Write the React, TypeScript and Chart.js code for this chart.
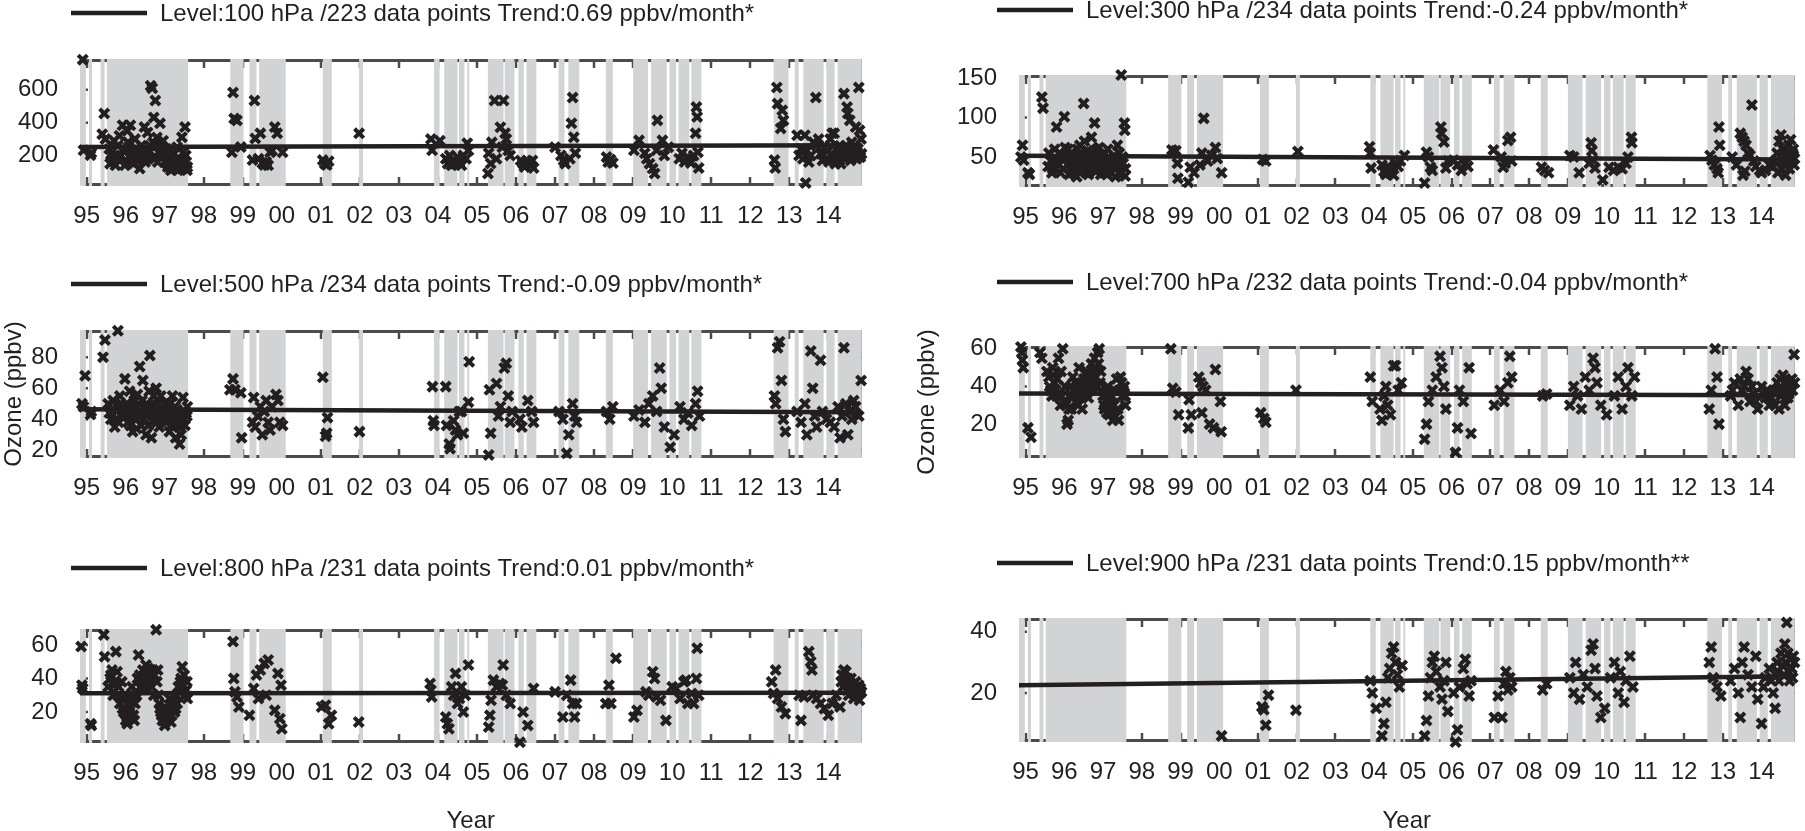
import { useEffect, useRef } from "react";
import { Chart, registerables } from "chart.js";

Chart.register(...registerables);

Chart.defaults.font.family = "'Liberation Sans', Arial, sans-serif";
Chart.defaults.font.size = 24;
Chart.defaults.color = "#231f20";

// x axis runs from the first to the last sounding month (decimal years)
const X_MIN = 1994.83;
const X_MAX = 2014.85;
const yearTicks = [
  1995, 1996, 1997, 1998, 1999, 2000, 2001, 2002, 2003, 2004,
  2005, 2006, 2007, 2008, 2009, 2010, 2011, 2012, 2013, 2014,
];

// shaded periods (same in every panel)
const bands: [number, number][] = [
  [1994.83, 1994.98], [1995.06, 1995.14], [1995.36, 1995.46], [1995.52, 1997.6],
  [1998.68, 1999.02], [1999.17, 1999.35], [1999.42, 2000.1],
  [2001.05, 2001.28], [2001.98, 2002.08],
  [2003.9, 2004.04], [2004.16, 2004.5], [2004.54, 2004.68], [2004.75, 2004.8],
  [2005.28, 2005.68], [2005.71, 2005.96], [2006.06, 2006.2], [2006.27, 2006.52],
  [2007.09, 2007.24], [2007.34, 2007.62], [2008.3, 2008.48],
  [2009.0, 2009.38], [2009.46, 2009.86], [2009.93, 2010.1], [2010.16, 2010.44], [2010.49, 2010.75],
  [2012.6, 2012.98], [2013.14, 2013.24], [2013.36, 2013.88], [2013.95, 2014.16], [2014.24, 2014.85],
];

// ---- 100 hPa ----
const pts100: [number, number][] = [
  [1994.9, 784], [1994.92, 232], [1995.1, 202], [1995.12, 216], [1995.4, 330], [1995.45, 456], [1995.48, 300],
  [1995.58, 240], [1995.62, 205], [1995.66, 180], [1995.7, 290], [1995.74, 140], [1995.8, 260], [1995.84, 320],
  [1995.88, 200], [1995.92, 384], [1995.96, 230], [1996.0, 170], [1996.04, 350], [1996.08, 250], [1996.12, 384],
  [1996.16, 210], [1996.2, 150], [1996.24, 300], [1996.28, 190], [1996.32, 230], [1996.36, 120], [1996.4, 260],
  [1996.44, 200], [1996.48, 373], [1996.52, 180], [1996.56, 340], [1996.6, 230], [1996.64, 625], [1996.68, 610],
  [1996.7, 280], [1996.72, 432], [1996.76, 535], [1996.8, 310], [1996.84, 220], [1996.88, 396], [1996.9, 260],
  [1996.94, 200], [1997.0, 160], [1997.04, 240], [1997.08, 130], [1997.12, 190], [1997.16, 110], [1997.2, 150],
  [1997.24, 210], [1997.28, 120], [1997.32, 250], [1997.36, 180], [1997.4, 140], [1997.44, 311], [1997.48, 220],
  [1997.52, 373], [1997.55, 160], [1997.58, 130], [1996.1, 190], [1996.5, 160], [1996.3, 170], [1997.1, 170],
  [1995.6, 150], [1995.78, 200], [1995.98, 140], [1996.06, 280], [1996.14, 160], [1996.26, 240], [1996.34, 180],
  [1996.46, 220], [1996.58, 190], [1996.62, 260], [1996.74, 180], [1996.82, 160], [1996.96, 290], [1997.02, 200],
  [1997.06, 150], [1997.14, 130], [1997.18, 180], [1997.22, 120], [1997.26, 160], [1997.3, 140], [1997.34, 110],
  [1997.38, 130], [1997.42, 170], [1997.46, 120], [1997.5, 150], [1997.54, 200], [1997.57, 110],
  [1998.72, 220], [1998.75, 584], [1998.78, 425], [1998.85, 414], [1998.95, 251],
  [1999.25, 172], [1999.3, 535], [1999.32, 304], [1999.4, 180], [1999.45, 335], [1999.5, 154], [1999.55, 142],
  [1999.6, 160], [1999.65, 140], [1999.7, 220], [1999.75, 230], [1999.82, 373], [1999.88, 335], [2000.02, 220],
  [2001.05, 172], [2001.1, 150], [2001.15, 142], [2001.2, 165], [2001.98, 335],
  [2003.82, 300], [2003.85, 232], [2004.05, 290], [2004.2, 180], [2004.25, 150], [2004.3, 200], [2004.35, 140],
  [2004.4, 170], [2004.45, 150], [2004.5, 190], [2004.55, 160], [2004.6, 140], [2004.65, 200], [2004.72, 180],
  [2004.75, 275], [2004.78, 230],
  [2005.28, 90], [2005.3, 214], [2005.35, 151], [2005.38, 280], [2005.45, 535], [2005.5, 180], [2005.6, 372],
  [2005.65, 250], [2005.68, 535], [2005.72, 336], [2005.75, 300], [2005.8, 230], [2005.85, 200],
  [2006.12, 170], [2006.18, 150], [2006.22, 130], [2006.3, 165], [2006.38, 140], [2006.42, 170], [2006.45, 124],
  [2007.0, 250], [2007.15, 200], [2007.22, 170], [2007.26, 150], [2007.38, 180], [2007.42, 396], [2007.45, 553],
  [2007.48, 311], [2007.52, 214],
  [2008.32, 190], [2008.36, 160], [2008.42, 175], [2008.48, 154],
  [2009.02, 232], [2009.15, 292], [2009.3, 214], [2009.35, 180], [2009.42, 150], [2009.5, 120], [2009.55, 90],
  [2009.6, 232], [2009.62, 414], [2009.75, 292], [2009.8, 200], [2009.9, 250],
  [2010.18, 180], [2010.25, 214], [2010.32, 160], [2010.4, 190], [2010.48, 154], [2010.55, 200], [2010.6, 335],
  [2010.62, 495], [2010.64, 435], [2010.66, 220], [2010.68, 124],
  [2012.62, 172], [2012.64, 124], [2012.68, 614], [2012.7, 516], [2012.78, 365], [2012.82, 475], [2012.85, 414],
  [2013.2, 323], [2013.25, 200], [2013.3, 240], [2013.35, 180], [2013.4, 323], [2013.42, 32], [2013.45, 230],
  [2013.5, 160], [2013.55, 200], [2013.62, 280], [2013.68, 553], [2013.7, 260], [2013.75, 300], [2013.8, 210],
  [2013.85, 170], [2013.92, 250], [2014.0, 230], [2014.05, 300], [2014.1, 335], [2014.15, 335], [2014.2, 240],
  [2014.25, 200], [2014.3, 260], [2014.35, 220], [2014.4, 577], [2014.45, 260], [2014.48, 495], [2014.5, 456],
  [2014.55, 414], [2014.6, 280], [2014.62, 190], [2014.65, 250], [2014.7, 373], [2014.74, 220], [2014.78, 614],
  [2014.8, 353], [2014.84, 300], [2014.85, 210],
  [2013.95, 180], [2014.02, 160], [2014.08, 200], [2014.12, 170], [2014.18, 150], [2014.22, 190], [2014.28, 170],
  [2014.32, 150], [2014.38, 200], [2014.42, 180], [2014.52, 220], [2014.57, 170], [2014.67, 200], [2014.72, 180],
  [2014.76, 240], [2014.82, 190],
];
const trend100: [number, number][] = [[1994.83, 252], [2014.85, 263]];

// ---- 300 hPa ----
const pts300: [number, number][] = [
  [1994.92, 65], [1994.88, 50], [1994.95, 46], [1995.06, 30], [1995.1, 28], [1995.42, 126], [1995.45, 112],
  [1995.6, 55], [1995.65, 45], [1995.7, 35], [1995.75, 60], [1995.8, 88], [1995.85, 40], [1995.9, 30],
  [1995.95, 50], [1996.0, 101], [1996.02, 62], [1996.08, 40], [1996.12, 28], [1996.18, 55], [1996.22, 45],
  [1996.28, 35], [1996.32, 25], [1996.36, 50], [1996.4, 65], [1996.45, 40], [1996.5, 118], [1996.52, 70],
  [1996.56, 30], [1996.6, 58], [1996.64, 45], [1996.7, 75], [1996.74, 35], [1996.78, 93], [1996.82, 52],
  [1996.86, 42], [1996.9, 62], [1996.94, 28], [1997.0, 48], [1997.04, 55], [1997.08, 38], [1997.12, 60],
  [1997.18, 45], [1997.22, 30], [1997.28, 52], [1997.32, 25], [1997.37, 65], [1997.4, 40], [1997.44, 28],
  [1997.47, 154], [1997.5, 50], [1997.55, 93], [1997.56, 84], [1997.58, 35], [1996.15, 48], [1996.66, 32],
  [1995.58, 38], [1995.68, 30], [1995.78, 45], [1995.88, 55], [1995.98, 35], [1996.05, 50], [1996.1, 60],
  [1996.2, 30], [1996.25, 52], [1996.3, 42], [1996.34, 60], [1996.38, 32], [1996.42, 55], [1996.48, 45],
  [1996.54, 50], [1996.58, 38], [1996.62, 28], [1996.68, 55], [1996.72, 48], [1996.76, 40], [1996.8, 32],
  [1996.84, 60], [1996.88, 35], [1996.92, 45], [1996.98, 38], [1997.02, 30], [1997.06, 46], [1997.1, 28],
  [1997.14, 50], [1997.2, 38], [1997.25, 44], [1997.3, 35], [1997.34, 48], [1997.42, 55], [1997.48, 30],
  [1997.52, 42], [1997.57, 26],
  [1998.78, 59], [1998.88, 58], [1998.92, 42], [1998.93, 23],
  [1999.2, 18], [1999.25, 37], [1999.35, 30], [1999.5, 40], [1999.55, 55], [1999.6, 99], [1999.7, 45],
  [1999.8, 52], [1999.9, 62], [1999.95, 48], [2000.06, 30],
  [2001.12, 47], [2001.2, 45], [2002.03, 57],
  [2003.88, 63], [2003.9, 55], [2003.92, 36], [2004.2, 40], [2004.25, 32], [2004.3, 28], [2004.35, 38],
  [2004.4, 30], [2004.45, 35], [2004.5, 27], [2004.55, 42], [2004.62, 38], [2004.68, 45], [2004.78, 52],
  [2005.3, 17], [2005.35, 56], [2005.4, 50], [2005.45, 37], [2005.5, 33], [2005.72, 88], [2005.74, 80],
  [2005.8, 69], [2005.85, 36], [2005.9, 45],
  [2006.05, 46], [2006.15, 40], [2006.25, 33], [2006.35, 42], [2006.42, 38],
  [2007.08, 59], [2007.28, 50], [2007.33, 37], [2007.38, 42], [2007.45, 71], [2007.52, 75], [2007.55, 45],
  [2008.32, 37], [2008.4, 33], [2008.5, 30],
  [2009.05, 52], [2009.15, 50], [2009.29, 30], [2009.55, 42], [2009.6, 68], [2009.62, 58], [2009.65, 46],
  [2009.7, 36], [2009.9, 21], [2010.06, 37], [2010.18, 33], [2010.3, 37], [2010.4, 35], [2010.5, 42],
  [2010.55, 50], [2010.64, 75], [2010.65, 68],
  [2012.67, 52], [2012.72, 46], [2012.78, 40], [2012.85, 35], [2012.88, 30], [2012.9, 88], [2012.92, 65],
  [2013.24, 50], [2013.35, 40], [2013.45, 80], [2013.5, 75], [2013.52, 27], [2013.55, 70], [2013.57, 32],
  [2013.6, 65], [2013.65, 55], [2013.7, 52], [2013.75, 116], [2013.8, 45], [2013.85, 38], [2013.95, 33],
  [2014.0, 30], [2014.1, 33], [2014.2, 40], [2014.4, 55], [2014.42, 30], [2014.45, 70], [2014.5, 78],
  [2014.52, 35], [2014.55, 60], [2014.6, 48], [2014.62, 27], [2014.65, 45], [2014.7, 65], [2014.75, 72],
  [2014.8, 55], [2014.84, 40],
  [2014.3, 38], [2014.35, 45], [2014.48, 50], [2014.58, 40], [2014.68, 55], [2014.72, 35], [2014.78, 45],
  [2014.82, 60], [2014.85, 48],
];
const trend300: [number, number][] = [[1994.83, 51.5], [2014.85, 47]];

// ---- 500 hPa ----
const pts500: [number, number][] = [
  [1994.96, 68], [1994.88, 50], [1994.92, 48], [1995.1, 43], [1995.12, 45], [1995.42, 80], [1995.47, 91],
  [1995.8, 97],
  [1995.58, 44], [1995.62, 40], [1995.68, 52], [1995.72, 35], [1995.78, 48], [1995.85, 55], [1995.9, 42],
  [1995.98, 66], [1996.02, 50], [1996.06, 38], [1996.1, 58], [1996.14, 45], [1996.18, 32], [1996.22, 52],
  [1996.26, 40], [1996.3, 56], [1996.36, 74], [1996.4, 36], [1996.44, 65], [1996.48, 48], [1996.52, 30],
  [1996.56, 44], [1996.6, 58], [1996.62, 81], [1996.66, 28], [1996.7, 50], [1996.74, 40], [1996.78, 60],
  [1996.82, 46], [1996.86, 35], [1996.9, 55], [1996.94, 42], [1997.0, 50], [1997.04, 38], [1997.08, 48],
  [1997.12, 32], [1997.16, 45], [1997.2, 55], [1997.24, 40], [1997.28, 28], [1997.32, 46], [1997.36, 35],
  [1997.38, 24], [1997.42, 30], [1997.47, 54], [1997.5, 40], [1997.55, 44], [1997.58, 48],
  [1995.55, 50], [1995.65, 46], [1995.75, 40], [1995.82, 38], [1995.88, 50], [1995.94, 45], [1996.0, 42],
  [1996.08, 46], [1996.12, 36], [1996.2, 44], [1996.24, 48], [1996.28, 34], [1996.32, 42], [1996.34, 50],
  [1996.38, 45], [1996.42, 52], [1996.46, 40], [1996.5, 44], [1996.54, 50], [1996.58, 36], [1996.64, 46],
  [1996.68, 42], [1996.72, 55], [1996.76, 46], [1996.8, 38], [1996.84, 50], [1996.88, 44], [1996.92, 48],
  [1996.98, 40], [1997.02, 45], [1997.06, 42], [1997.1, 40], [1997.14, 50], [1997.18, 36], [1997.22, 42],
  [1997.26, 48], [1997.3, 38], [1997.34, 42], [1997.4, 36], [1997.44, 44], [1997.52, 36], [1997.57, 42],
  [1998.67, 59], [1998.75, 66], [1998.8, 59], [1998.95, 57], [1998.97, 28],
  [1999.25, 38], [1999.28, 54], [1999.32, 35], [1999.38, 42], [1999.45, 48], [1999.5, 30], [1999.55, 45],
  [1999.6, 52], [1999.65, 38], [1999.7, 33], [1999.75, 48], [1999.85, 56], [1999.9, 52], [1999.95, 38],
  [2000.02, 36],
  [2001.05, 67], [2001.12, 29], [2001.15, 31], [2001.17, 41], [2001.99, 32],
  [2003.86, 61], [2003.88, 39], [2003.9, 36], [2004.2, 61], [2004.22, 36], [2004.29, 24], [2004.31, 21],
  [2004.4, 39], [2004.45, 33], [2004.5, 30], [2004.55, 45], [2004.6, 45], [2004.65, 31], [2004.78, 51],
  [2004.8, 77],
  [2005.3, 17], [2005.32, 59], [2005.35, 31], [2005.5, 63], [2005.55, 42], [2005.6, 48], [2005.7, 73],
  [2005.75, 76], [2005.8, 55], [2005.85, 38], [2005.9, 45],
  [2006.1, 40], [2006.15, 35], [2006.3, 52], [2006.4, 45], [2006.45, 38],
  [2007.1, 45], [2007.2, 40], [2007.3, 18], [2007.35, 30], [2007.45, 50], [2007.5, 42], [2007.55, 38],
  [2008.32, 45], [2008.4, 40], [2008.48, 48],
  [2009.02, 42], [2009.15, 46], [2009.3, 38], [2009.4, 50], [2009.5, 55], [2009.6, 45], [2009.68, 73],
  [2009.72, 60], [2009.8, 35], [2009.95, 22], [2010.05, 30], [2010.2, 48], [2010.3, 40], [2010.4, 44],
  [2010.5, 36], [2010.6, 50], [2010.65, 58], [2010.7, 42],
  [2012.62, 55], [2012.65, 50], [2012.7, 86], [2012.75, 90], [2012.8, 65], [2012.85, 40], [2012.9, 32],
  [2013.2, 45], [2013.3, 38], [2013.4, 50], [2013.45, 30], [2013.55, 84], [2013.6, 60], [2013.65, 42],
  [2013.7, 35], [2013.8, 78], [2013.85, 45], [2013.95, 40], [2014.05, 38], [2014.15, 35], [2014.25, 48],
  [2014.3, 28], [2014.35, 42], [2014.4, 86], [2014.45, 50], [2014.5, 30], [2014.55, 45], [2014.6, 40],
  [2014.65, 52], [2014.7, 48], [2014.78, 42], [2014.84, 65],
];
const trend500: [number, number][] = [[1994.83, 46.5], [2014.85, 44.5]];

// ---- 700 hPa ----
const pts700: [number, number][] = [
  [1994.88, 61], [1994.9, 58], [1994.92, 54], [1994.94, 50], [1995.06, 18], [1995.14, 13], [1995.37, 58],
  [1995.42, 55],
  [1995.6, 45], [1995.65, 38], [1995.7, 50], [1995.75, 42], [1995.8, 35], [1995.85, 55], [1995.9, 30],
  [1995.96, 60], [1996.02, 40], [1996.07, 20], [1996.1, 22], [1996.14, 35], [1996.18, 28], [1996.22, 45],
  [1996.26, 38], [1996.3, 32], [1996.34, 42], [1996.38, 50], [1996.42, 36], [1996.46, 28], [1996.5, 44],
  [1996.54, 38], [1996.58, 48], [1996.62, 34], [1996.66, 42], [1996.7, 52], [1996.74, 40], [1996.78, 55],
  [1996.82, 45], [1996.86, 58], [1996.9, 60], [1996.94, 48], [1997.0, 35], [1997.04, 28], [1997.08, 32],
  [1997.12, 40], [1997.16, 25], [1997.2, 30], [1997.25, 22], [1997.3, 38], [1997.35, 44], [1997.4, 22],
  [1997.45, 45], [1997.5, 35], [1997.55, 40], [1997.58, 30],
  [1995.55, 48], [1995.62, 40], [1995.68, 35], [1995.72, 46], [1995.78, 38], [1995.82, 44], [1995.88, 36],
  [1995.92, 48], [1996.0, 32], [1996.04, 30], [1996.12, 28], [1996.16, 40], [1996.2, 34], [1996.24, 38],
  [1996.28, 42], [1996.32, 36], [1996.36, 30], [1996.4, 40], [1996.44, 34], [1996.48, 38], [1996.52, 42],
  [1996.56, 36], [1996.6, 40], [1996.64, 46], [1996.68, 38], [1996.72, 44], [1996.76, 48], [1996.8, 50],
  [1996.84, 40], [1996.88, 52], [1996.92, 42], [1996.96, 38], [1997.02, 30], [1997.06, 36], [1997.1, 26],
  [1997.14, 34], [1997.18, 28], [1997.22, 35], [1997.28, 30], [1997.32, 24], [1997.38, 28], [1997.42, 38],
  [1997.48, 42], [1997.52, 38], [1997.57, 35],
  [1998.75, 60], [1998.8, 39], [1998.88, 37], [1998.95, 25],
  [1999.2, 18], [1999.22, 33], [1999.28, 25], [1999.47, 45], [1999.52, 42], [1999.55, 26], [1999.58, 40],
  [1999.65, 38], [1999.75, 20], [1999.85, 18], [1999.9, 49], [2000.03, 32], [2000.05, 16],
  [2001.07, 26], [2001.15, 23], [2001.2, 21], [2001.98, 38],
  [2003.9, 45], [2003.95, 32], [2004.15, 28], [2004.2, 22], [2004.25, 35], [2004.3, 40], [2004.35, 30],
  [2004.42, 25], [2004.5, 51], [2004.55, 51], [2004.62, 38], [2004.7, 42],
  [2005.3, 12], [2005.35, 20], [2005.4, 32], [2005.5, 38], [2005.6, 45], [2005.7, 56], [2005.75, 50],
  [2005.8, 40], [2005.85, 28],
  [2006.1, 5], [2006.15, 18], [2006.2, 38], [2006.3, 32], [2006.45, 50], [2006.5, 15],
  [2007.1, 30], [2007.25, 38], [2007.35, 32], [2007.45, 42], [2007.5, 56], [2007.55, 45],
  [2008.35, 35], [2008.45, 36],
  [2009.05, 30], [2009.15, 40], [2009.25, 35], [2009.35, 28], [2009.45, 45], [2009.55, 38], [2009.65, 55],
  [2009.7, 50], [2009.75, 42], [2009.85, 30], [2010.0, 25], [2010.2, 35], [2010.3, 45], [2010.4, 28],
  [2010.5, 40], [2010.55, 50], [2010.65, 35], [2010.72, 45],
  [2012.65, 28], [2012.7, 38], [2012.8, 60], [2012.85, 45], [2012.9, 20],
  [2013.2, 35], [2013.3, 42], [2013.4, 30], [2013.5, 38], [2013.6, 48], [2013.65, 44], [2013.7, 32],
  [2013.8, 36], [2013.9, 28], [2014.0, 40], [2014.1, 34], [2014.2, 30], [2014.3, 38], [2014.4, 42],
  [2014.45, 28], [2014.5, 35], [2014.55, 46], [2014.6, 30], [2014.65, 40], [2014.7, 36], [2014.78, 44],
  [2014.84, 57],
  [2013.25, 38], [2013.45, 44], [2013.55, 40], [2013.75, 40], [2013.85, 32], [2014.05, 36], [2014.15, 38],
  [2014.25, 34], [2014.35, 30], [2014.42, 38], [2014.48, 44], [2014.58, 38], [2014.62, 42], [2014.68, 34],
  [2014.75, 40], [2014.8, 38], [2014.85, 42],
];
const trend700: [number, number][] = [[1994.83, 36.3], [2014.85, 35.3]];

// ---- 800 hPa ----
const pts800: [number, number][] = [
  [1994.86, 59], [1994.88, 36], [1994.9, 34], [1995.1, 13], [1995.12, 12], [1995.44, 66], [1995.46, 53],
  [1995.6, 40], [1995.65, 45], [1995.7, 36], [1995.75, 56], [1995.8, 30], [1995.85, 25], [1995.9, 38],
  [1995.95, 20], [1996.0, 15], [1996.04, 13], [1996.08, 28], [1996.12, 22], [1996.16, 35], [1996.2, 18],
  [1996.24, 25], [1996.28, 30], [1996.33, 54], [1996.36, 42], [1996.4, 38], [1996.44, 45], [1996.48, 35],
  [1996.52, 48], [1996.56, 40], [1996.6, 44], [1996.64, 38], [1996.68, 42], [1996.72, 30], [1996.78, 69],
  [1996.82, 45], [1996.86, 25], [1996.9, 20], [1996.94, 15], [1997.0, 12], [1997.04, 22], [1997.08, 18],
  [1997.12, 28], [1997.16, 14], [1997.2, 24], [1997.25, 20], [1997.3, 30], [1997.35, 35], [1997.4, 38],
  [1997.45, 47], [1997.5, 42], [1997.55, 33], [1997.58, 28],
  [1995.55, 35], [1995.62, 42], [1995.68, 30], [1995.72, 38], [1995.78, 44], [1995.82, 35], [1995.88, 28],
  [1995.92, 22], [1995.98, 30], [1996.02, 18], [1996.06, 25], [1996.1, 20], [1996.14, 30], [1996.18, 26],
  [1996.22, 15], [1996.26, 32], [1996.3, 40], [1996.38, 35], [1996.42, 40], [1996.46, 38], [1996.5, 42],
  [1996.54, 36], [1996.58, 46], [1996.62, 40], [1996.66, 35], [1996.7, 45], [1996.74, 42], [1996.8, 38],
  [1996.84, 30], [1996.88, 22], [1996.92, 18], [1996.98, 16], [1997.02, 14], [1997.06, 20], [1997.1, 16],
  [1997.14, 22], [1997.18, 18], [1997.22, 26], [1997.28, 22], [1997.32, 25], [1997.38, 32], [1997.42, 40],
  [1997.48, 36], [1997.52, 30], [1997.57, 38],
  [1998.75, 62], [1998.77, 40], [1998.8, 32], [1998.85, 29], [1998.9, 23],
  [1999.17, 18], [1999.28, 34], [1999.35, 42], [1999.4, 28], [1999.45, 45], [1999.55, 49], [1999.6, 30],
  [1999.65, 51], [1999.82, 21], [1999.9, 43], [1999.95, 16], [1999.98, 36], [2000.0, 10],
  [2001.02, 23], [2001.12, 24], [2001.2, 13], [2001.27, 18], [2001.97, 14],
  [2003.8, 37], [2003.82, 33], [2003.84, 29],
  [2004.2, 17], [2004.24, 13], [2004.28, 10], [2004.35, 35], [2004.4, 30], [2004.45, 43], [2004.5, 25],
  [2004.55, 28], [2004.6, 35], [2004.65, 20], [2004.7, 30], [2004.78, 48],
  [2005.3, 11], [2005.33, 18], [2005.36, 27], [2005.42, 39], [2005.5, 35], [2005.58, 37], [2005.65, 36],
  [2005.67, 48], [2005.75, 30], [2005.85, 25],
  [2006.1, 2], [2006.18, 20], [2006.3, 12], [2006.45, 34],
  [2007.0, 32], [2007.2, 17], [2007.3, 30], [2007.4, 39], [2007.45, 25], [2007.5, 17], [2007.55, 25],
  [2008.3, 25], [2008.38, 36], [2008.43, 25], [2008.56, 52],
  [2009.02, 17], [2009.1, 21], [2009.33, 32], [2009.4, 30], [2009.5, 44], [2009.55, 40], [2009.6, 29],
  [2009.7, 27], [2009.84, 15], [2010.0, 35], [2010.1, 34], [2010.2, 28], [2010.3, 38], [2010.35, 39],
  [2010.4, 25], [2010.5, 31], [2010.55, 25], [2010.62, 40], [2010.64, 58], [2010.68, 30],
  [2012.55, 38], [2012.6, 31], [2012.65, 45], [2012.7, 28], [2012.8, 23], [2012.9, 19],
  [2013.25, 30], [2013.3, 15], [2013.38, 29], [2013.5, 56], [2013.55, 50], [2013.58, 45], [2013.6, 30],
  [2013.7, 28], [2013.8, 25], [2013.9, 22], [2014.0, 18], [2014.1, 25], [2014.2, 30], [2014.3, 23],
  [2014.33, 38], [2014.4, 45], [2014.45, 44], [2014.5, 40], [2014.55, 36], [2014.6, 33], [2014.65, 28],
  [2014.7, 38], [2014.75, 31], [2014.8, 27], [2014.85, 32],
  [2014.35, 42], [2014.38, 35], [2014.42, 38], [2014.48, 33], [2014.52, 30], [2014.58, 40], [2014.62, 35],
  [2014.68, 32], [2014.72, 30], [2014.78, 36], [2014.82, 34],
];
const trend800: [number, number][] = [[1994.83, 31.2], [2014.85, 31.5]];

// ---- 900 hPa ----
const pts900: [number, number][] = [
  [2000.06, 6], [2001.1, 15.5], [2001.15, 14.5], [2001.2, 9.5], [2001.27, 19.3], [2001.98, 14.4],
  [2003.9, 24], [2003.95, 20], [2004.05, 15], [2004.2, 6], [2004.25, 10], [2004.3, 17], [2004.35, 25],
  [2004.4, 28], [2004.45, 33], [2004.5, 35], [2004.55, 30], [2004.6, 26], [2004.65, 22], [2004.72, 29],
  [2005.3, 6], [2005.35, 11], [2005.4, 19], [2005.45, 25], [2005.5, 30], [2005.55, 32], [2005.6, 27],
  [2005.7, 22], [2005.75, 18], [2005.8, 24], [2005.85, 30], [2005.9, 14],
  [2006.05, 20], [2006.1, 4], [2006.15, 8], [2006.2, 22], [2006.3, 28], [2006.35, 31], [2006.4, 23],
  [2006.45, 19], [2006.5, 24],
  [2007.1, 12], [2007.2, 19], [2007.3, 12], [2007.35, 23], [2007.4, 27], [2007.45, 21], [2007.5, 25],
  [2007.55, 22], [2008.35, 21], [2008.45, 23],
  [2009.05, 25], [2009.15, 20], [2009.2, 30], [2009.3, 18], [2009.4, 26], [2009.5, 22], [2009.6, 34],
  [2009.65, 36], [2009.7, 28], [2009.75, 19], [2009.85, 12], [2009.95, 15], [2010.1, 25], [2010.2, 30],
  [2010.3, 20], [2010.35, 27], [2010.45, 17], [2010.5, 24], [2010.6, 32], [2010.68, 22],
  [2012.65, 30], [2012.7, 35], [2012.75, 25], [2012.85, 22], [2012.95, 19],
  [2013.2, 24], [2013.3, 28], [2013.4, 20], [2013.45, 12], [2013.5, 30], [2013.55, 35], [2013.65, 26],
  [2013.75, 22], [2013.85, 32], [2013.9, 18], [2014.0, 10], [2014.1, 25], [2014.2, 28], [2014.3, 20],
  [2014.35, 15], [2014.4, 30], [2014.45, 24], [2014.5, 33], [2014.55, 29], [2014.6, 36], [2014.65, 43],
  [2014.7, 27], [2014.75, 31], [2014.8, 25], [2014.85, 30],
  [2014.05, 22], [2014.25, 24], [2014.42, 27], [2014.58, 26], [2014.62, 30], [2014.68, 33], [2014.72, 24],
  [2014.78, 28], [2014.82, 32],
];
const trend900: [number, number][] = [[1994.83, 22.5], [2014.85, 25.5]];

type PanelCfg = {
  label: string;
  points: [number, number][];
  trend: [number, number][];
  yMin: number;
  yMax: number;
  yTicks: number[];
  // page geometry
  box: { x: number; y: number; w: number; h: number };
  plot: { l: number; t: number; r: number; b: number };
  legendY: number;
  yTitle?: boolean;
  xTitle?: boolean;
};

const LEFT = { x: 0, w: 872 };
const RIGHT = { x: 913, w: 892 };

const panels: PanelCfg[] = [
  {
    label: "Level:100 hPa /223 data points Trend:0.69 ppbv/month*",
    points: pts100, trend: trend100, yMin: 14, yMax: 788, yTicks: [200, 400, 600],
    box: { ...LEFT, y: 0, h: 245 }, plot: { l: 80, t: 59, r: 863, b: 186 }, legendY: 13,
  },
  {
    label: "Level:300 hPa /234 data points Trend:-0.24 ppbv/month*",
    points: pts300, trend: trend300, yMin: 12, yMax: 154, yTicks: [50, 100, 150],
    box: { ...RIGHT, y: 0, h: 245 }, plot: { l: 1019, t: 75, r: 1800, b: 187 }, legendY: 10,
  },
  {
    label: "Level:500 hPa /234 data points Trend:-0.09 ppbv/month*",
    points: pts500, trend: trend500, yMin: 15, yMax: 97.5, yTicks: [20, 40, 60, 80],
    box: { ...LEFT, y: 245, h: 285 }, plot: { l: 80, t: 330, r: 863, b: 458 }, legendY: 284, yTitle: true,
  },
  {
    label: "Level:700 hPa /232 data points Trend:-0.04 ppbv/month*",
    points: pts700, trend: trend700, yMin: 2, yMax: 61.5, yTicks: [20, 40, 60],
    box: { ...RIGHT, y: 245, h: 285 }, plot: { l: 1019, t: 346, r: 1800, b: 458 }, legendY: 282, yTitle: true,
  },
  {
    label: "Level:800 hPa /231 data points Trend:0.01 ppbv/month*",
    points: pts800, trend: trend800, yMin: 1.5, yMax: 69.5, yTicks: [20, 40, 60],
    box: { ...LEFT, y: 530, h: 301 }, plot: { l: 80, t: 629, r: 863, b: 743 }, legendY: 568, xTitle: true,
  },
  {
    label: "Level:900 hPa /231 data points Trend:0.15 ppbv/month**",
    points: pts900, trend: trend900, yMin: 4, yMax: 44.5, yTicks: [20, 40],
    box: { ...RIGHT, y: 530, h: 301 }, plot: { l: 1019, t: 618, r: 1800, b: 742 }, legendY: 563, xTitle: true,
  },
];

const INK = "#231f20";

// frame, inward ticks, shaded bands (under the data) and the line-sample legend
const panelDecor = {
  id: "panelDecor",
  beforeDatasetsDraw(chart: any, _args: any, opts: any) {
    const { ctx, chartArea: a, scales } = chart;
    const xs = scales.x;
    const ys = scales.y;
    ctx.save();
    ctx.strokeStyle = "#4b4b4d";
    ctx.lineWidth = 3;
    ctx.strokeRect(a.left + 1.5, a.top + 1.5, a.right - a.left - 3, a.bottom - a.top - 3);
    ctx.lineWidth = 2.5;
    ctx.beginPath();
    for (const yr of yearTicks) {
      const px = Math.round(xs.getPixelForValue(yr));
      ctx.moveTo(px, a.top);
      ctx.lineTo(px, a.top + 9);
      ctx.moveTo(px, a.bottom);
      ctx.lineTo(px, a.bottom - 9);
    }
    for (const v of opts.yTicks as number[]) {
      const py = ys.getPixelForValue(v);
      ctx.moveTo(a.left, py);
      ctx.lineTo(a.left + 8, py);
      ctx.moveTo(a.right, py);
      ctx.lineTo(a.right - 8, py);
    }
    ctx.stroke();
    ctx.fillStyle = "#d2d3d5";
    for (const [s, e] of bands) {
      const x0 = xs.getPixelForValue(s);
      const x1 = xs.getPixelForValue(e);
      ctx.fillRect(x0, a.top, x1 - x0, a.bottom - a.top);
    }
    ctx.restore();
  },
  afterDraw(chart: any, _args: any, opts: any) {
    const { ctx } = chart;
    const lg = opts.legend;
    ctx.save();
    ctx.strokeStyle = INK;
    ctx.lineWidth = 4.5;
    ctx.beginPath();
    ctx.moveTo(lg.x0, lg.y);
    ctx.lineTo(lg.x1, lg.y);
    ctx.stroke();
    ctx.fillStyle = INK;
    ctx.font = "24px 'Liberation Sans', Arial, sans-serif";
    ctx.textBaseline = "middle";
    ctx.textAlign = "left";
    ctx.fillText(lg.text, lg.tx, lg.y + 1);
    ctx.restore();
  },
};

function Panel({ cfg }: { cfg: PanelCfg }) {
  const canvasRef = useRef<HTMLCanvasElement>(null);
  const chartRef = useRef<Chart | null>(null);

  useEffect(() => {
    if (!canvasRef.current) return;
    const { box, plot } = cfg;
    const xAxisH = cfg.xTitle ? box.y + box.h - plot.b : 50;
    const legendLeft = box.x === LEFT.x ? 71 : 997;

    chartRef.current?.destroy();
    chartRef.current = new Chart(canvasRef.current, {
      type: "scatter",
      data: {
        datasets: [
          {
            data: cfg.points.map(([x, y]) => ({ x, y })),
            pointStyle: "crossRot",
            pointRadius: 6.5,
            pointBorderWidth: 4,
            pointBorderColor: INK,
            pointBackgroundColor: INK,
            showLine: false,
            clip: false,
          },
          {
            data: cfg.trend.map(([x, y]) => ({ x, y })),
            showLine: true,
            borderColor: INK,
            borderWidth: 4.5,
            pointRadius: 0,
          },
        ],
      },
      options: {
        animation: false,
        responsive: true,
        maintainAspectRatio: false,
        events: [],
        layout: {
          padding: {
            left: 0,
            top: plot.t - box.y,
            right: box.x + box.w - plot.r,
            bottom: box.y + box.h - plot.b - xAxisH,
          },
        },
        plugins: {
          legend: { display: false },
          tooltip: { enabled: false },
          panelDecor: {
            yTicks: cfg.yTicks,
            legend: {
              x0: legendLeft - box.x,
              x1: legendLeft + 76 - box.x,
              tx: legendLeft + 89 - box.x,
              y: cfg.legendY - box.y,
              text: cfg.label,
            },
          },
        } as any,
        scales: {
          x: {
            type: "linear",
            min: X_MIN,
            max: X_MAX,
            grid: { display: false, drawTicks: false },
            border: { display: false },
            afterBuildTicks: (s: any) => {
              s.ticks = yearTicks.map((v) => ({ value: v }));
            },
            afterFit: (s: any) => {
              s.height = xAxisH;
            },
            ticks: {
              autoSkip: false,
              maxRotation: 0,
              padding: 16,
              color: INK,
              callback: (v: any) => String(Number(v) % 100).padStart(2, "0"),
            },
            title: {
              display: !!cfg.xTitle,
              text: "Year",
              color: INK,
              font: { size: 24, lineHeight: 0.8 },
              padding: 0,
            },
          },
          y: {
            type: "linear",
            min: cfg.yMin,
            max: cfg.yMax,
            grid: { display: false, drawTicks: false },
            border: { display: false },
            afterBuildTicks: (s: any) => {
              s.ticks = cfg.yTicks.map((v) => ({ value: v }));
            },
            afterFit: (s: any) => {
              s.width = plot.l - box.x;
            },
            ticks: { padding: 22, color: INK },
            title: {
              display: !!cfg.yTitle,
              text: "Ozone (ppbv)",
              color: INK,
              font: { size: 24 },
              padding: 0,
            },
          },
        },
      },
      plugins: [panelDecor],
    });

    return () => {
      chartRef.current?.destroy();
      chartRef.current = null;
    };
  }, [cfg]);

  const { box } = cfg;
  return (
    <div style={{ position: "absolute", left: box.x, top: box.y, width: box.w, height: box.h }}>
      <canvas ref={canvasRef} />
    </div>
  );
}

export default function App() {
  return (
    <div
      style={{
        position: "fixed",
        left: 0,
        top: 0,
        width: 1805,
        height: 831,
        background: "#fff",
        overflow: "hidden",
      }}
    >
      {panels.map((p) => (
        <Panel key={p.label} cfg={p} />
      ))}
    </div>
  );
}
